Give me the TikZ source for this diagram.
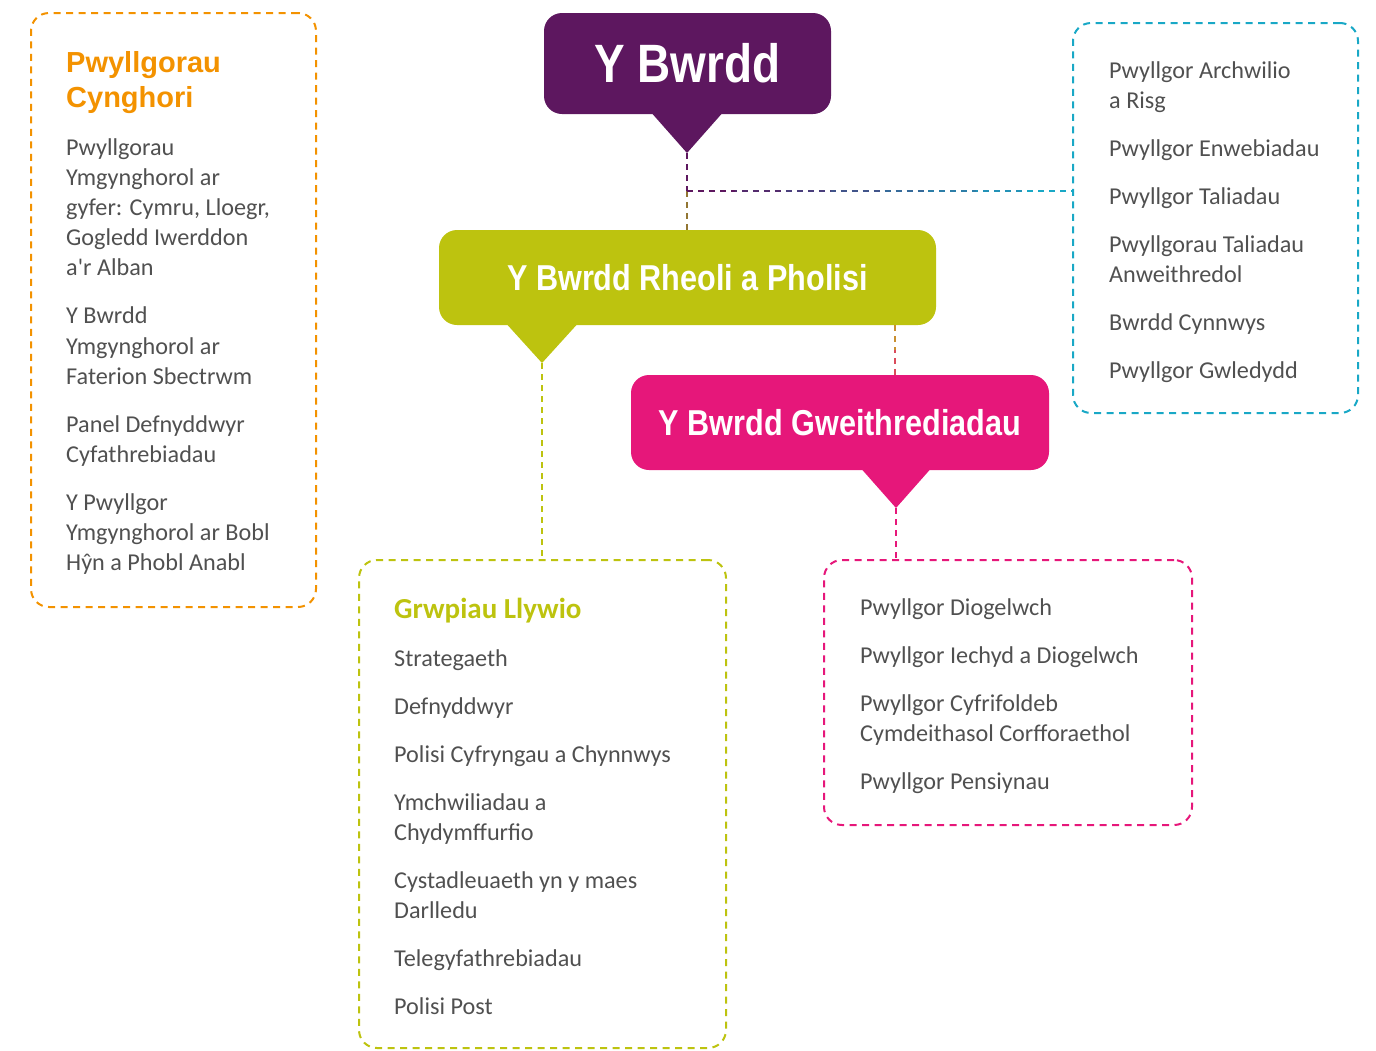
\documentclass[tikz,border=0pt]{standalone}
\usepackage{fontspec}
\setmainfont{Carlito}
\newfontfamily\headfont[FakeStretch=0.85]{Liberation Sans}
\newfontfamily\titlefont{Liberation Sans}
\usetikzlibrary{calc}

\definecolor{bwrddpurple}{HTML}{5D175F}
\definecolor{rheoligreen}{HTML}{BDC30F}
\definecolor{opspink}{HTML}{E6177A}
\definecolor{cynghoriorange}{HTML}{F39200}
\definecolor{auditteal}{HTML}{19A8C6}
\definecolor{bodygray}{HTML}{505050}

\begin{document}
\begin{tikzpicture}[x=1pt,y=-1pt]
        \tikzstyle{board} = [rectangle, rounded corners=18pt, text=white, inner sep=0pt, font=\headfont\bfseries\fontsize{36}{36}\selectfont]
        \tikzstyle{frame} = [rectangle, rounded corners=18pt, line width=2pt, dash pattern=on 7pt off 5.5pt, inner sep=0pt]
        \tikzstyle{list} = [anchor=north west, inner sep=0pt, align=left, text=bodygray, font=\fontsize{24.2}{30.2}\selectfont]
        \tikzstyle{line} = [line width=1.8pt, dash pattern=on 6pt off 5pt]
        \useasboundingbox (0,0) rectangle (1376,1050);
        % boards
        \node[board,fill=bwrddpurple,minimum width=287pt,minimum height=101pt,font=\headfont\bfseries\fontsize{54}{54}\selectfont] (bwrdd) at (687.5,63.5) {Y Bwrdd};
        \node[board,fill=rheoligreen,minimum width=497pt,minimum height=95pt] (rheoli) at (687.5,277.5) {Y Bwrdd Rheoli a Pholisi};
        \node[board,fill=opspink,minimum width=418pt,minimum height=95pt] (ops) at (840,422.5) {Y Bwrdd Gweithrediadau};
        \fill[bwrddpurple] (649,110) -- (725,110) -- (687,153) -- cycle;
        \fill[rheoligreen] (503,320) -- (581,320) -- (542,363) -- cycle;
        \fill[opspink] (858,465) -- (934,465) -- (896,508) -- cycle;
        \coordinate (bwrddtip) at (687,153);
        \coordinate (rheolitip) at (542,363);
        \coordinate (opstip) at (896,508);
        \coordinate (junction) at (687,191);
        \coordinate (opslink) at (895,325);
        % dashed frames
        \node[frame,draw=cynghoriorange,minimum width=285pt,minimum height=594pt] (cynghori) at (173.5,310) {};
        \node[frame,draw=auditteal,minimum width=285pt,minimum height=390pt] (audit) at (1215.5,218) {};
        \node[frame,draw=rheoligreen,minimum width=367pt,minimum height=488pt] (llywio) at (542.5,804) {};
        \node[frame,draw=opspink,minimum width=368pt,minimum height=265pt] (opslist) at (1008,692.5) {};
        % connectors
        \draw[line,bwrddpurple] (bwrddtip) -- (junction);
        \draw[line,bwrddpurple!45!rheoligreen] (junction) -- (junction |- rheoli.north);
        \foreach \i [evaluate=\i as \p using int(\i*100/7), evaluate=\i as \fa using \i/8, evaluate=\i as \fb using (\i+1)/8, evaluate=\i as \ph using {mod(\i*48.25,11)}] in {0,...,7}
          \draw[line,auditteal!\p!bwrddpurple,dash phase=\ph pt] ($(junction)!\fa!(junction -| audit.west)$) -- ($(junction)!\fb!(junction -| audit.west)$);
        \draw[line,rheoligreen!70!opspink] (opslink) -- ($(opslink)!0.5!(opslink |- ops.north)$);
        \draw[line,rheoligreen!30!opspink,dash phase=3pt] ($(opslink)!0.5!(opslink |- ops.north)$) -- (opslink |- ops.north);
        \draw[line,rheoligreen] (rheolitip) -- (rheolitip |- llywio.north);
        \draw[line,opspink] (opstip) -- (opstip |- opslist.north);
        % texts
        \node[anchor=north west,inner sep=0pt,align=left,text=cynghoriorange,font=\titlefont\bfseries\fontsize{29}{35}\selectfont] (cynghorititle) at (66,51) {Pwyllgorau\\Cynghori};
        \node[list] (cynghoritext) at (66,138) {Pwyllgorau\\Ymgynghorol ar\\gyfer: Cymru, Lloegr,\\Gogledd Iwerddon\\a\textquotesingle r Alban\\[17.8pt]
          Y Bwrdd\\Ymgynghorol ar\\Faterion Sbectrwm\\[17.8pt]
          Panel Defnyddwyr\\Cyfathrebiadau\\[17.8pt]
          Y Pwyllgor\\Ymgynghorol ar Bobl\\Hŷn a Phobl Anabl};
        \node[list] (audittext) at (1109,61) {Pwyllgor Archwilio\\a Risg\\[17.8pt]
          Pwyllgor Enwebiadau\\[17.8pt]
          Pwyllgor Taliadau\\[17.8pt]
          Pwyllgorau Taliadau\\Anweithredol\\[17.8pt]
          Bwrdd Cynnwys\\[17.8pt]
          Pwyllgor Gwledydd};
        \node[anchor=north west,inner sep=0pt,text=rheoligreen,font=\bfseries\fontsize{29}{35}\selectfont] (llywiotitle) at (394,598) {Grwpiau Llywio};
        \node[list] (llywiotext) at (394,649) {Strategaeth\\[17.8pt]
          Defnyddwyr\\[17.8pt]
          Polisi Cyfryngau a Chynnwys\\[17.8pt]
          Ymchwiliadau a\\Chydymffurfio\\[17.8pt]
          Cystadleuaeth yn y maes\\Darlledu\\[17.8pt]
          Telegyfathrebiadau\\[17.8pt]
          Polisi Post};
        \node[list] (opstext) at (860,598) {Pwyllgor Diogelwch\\[17.8pt]
          Pwyllgor Iechyd a Diogelwch\\[17.8pt]
          Pwyllgor Cyfrifoldeb\\Cymdeithasol Corfforaethol\\[17.8pt]
          Pwyllgor Pensiynau};
\end{tikzpicture}
\end{document}
